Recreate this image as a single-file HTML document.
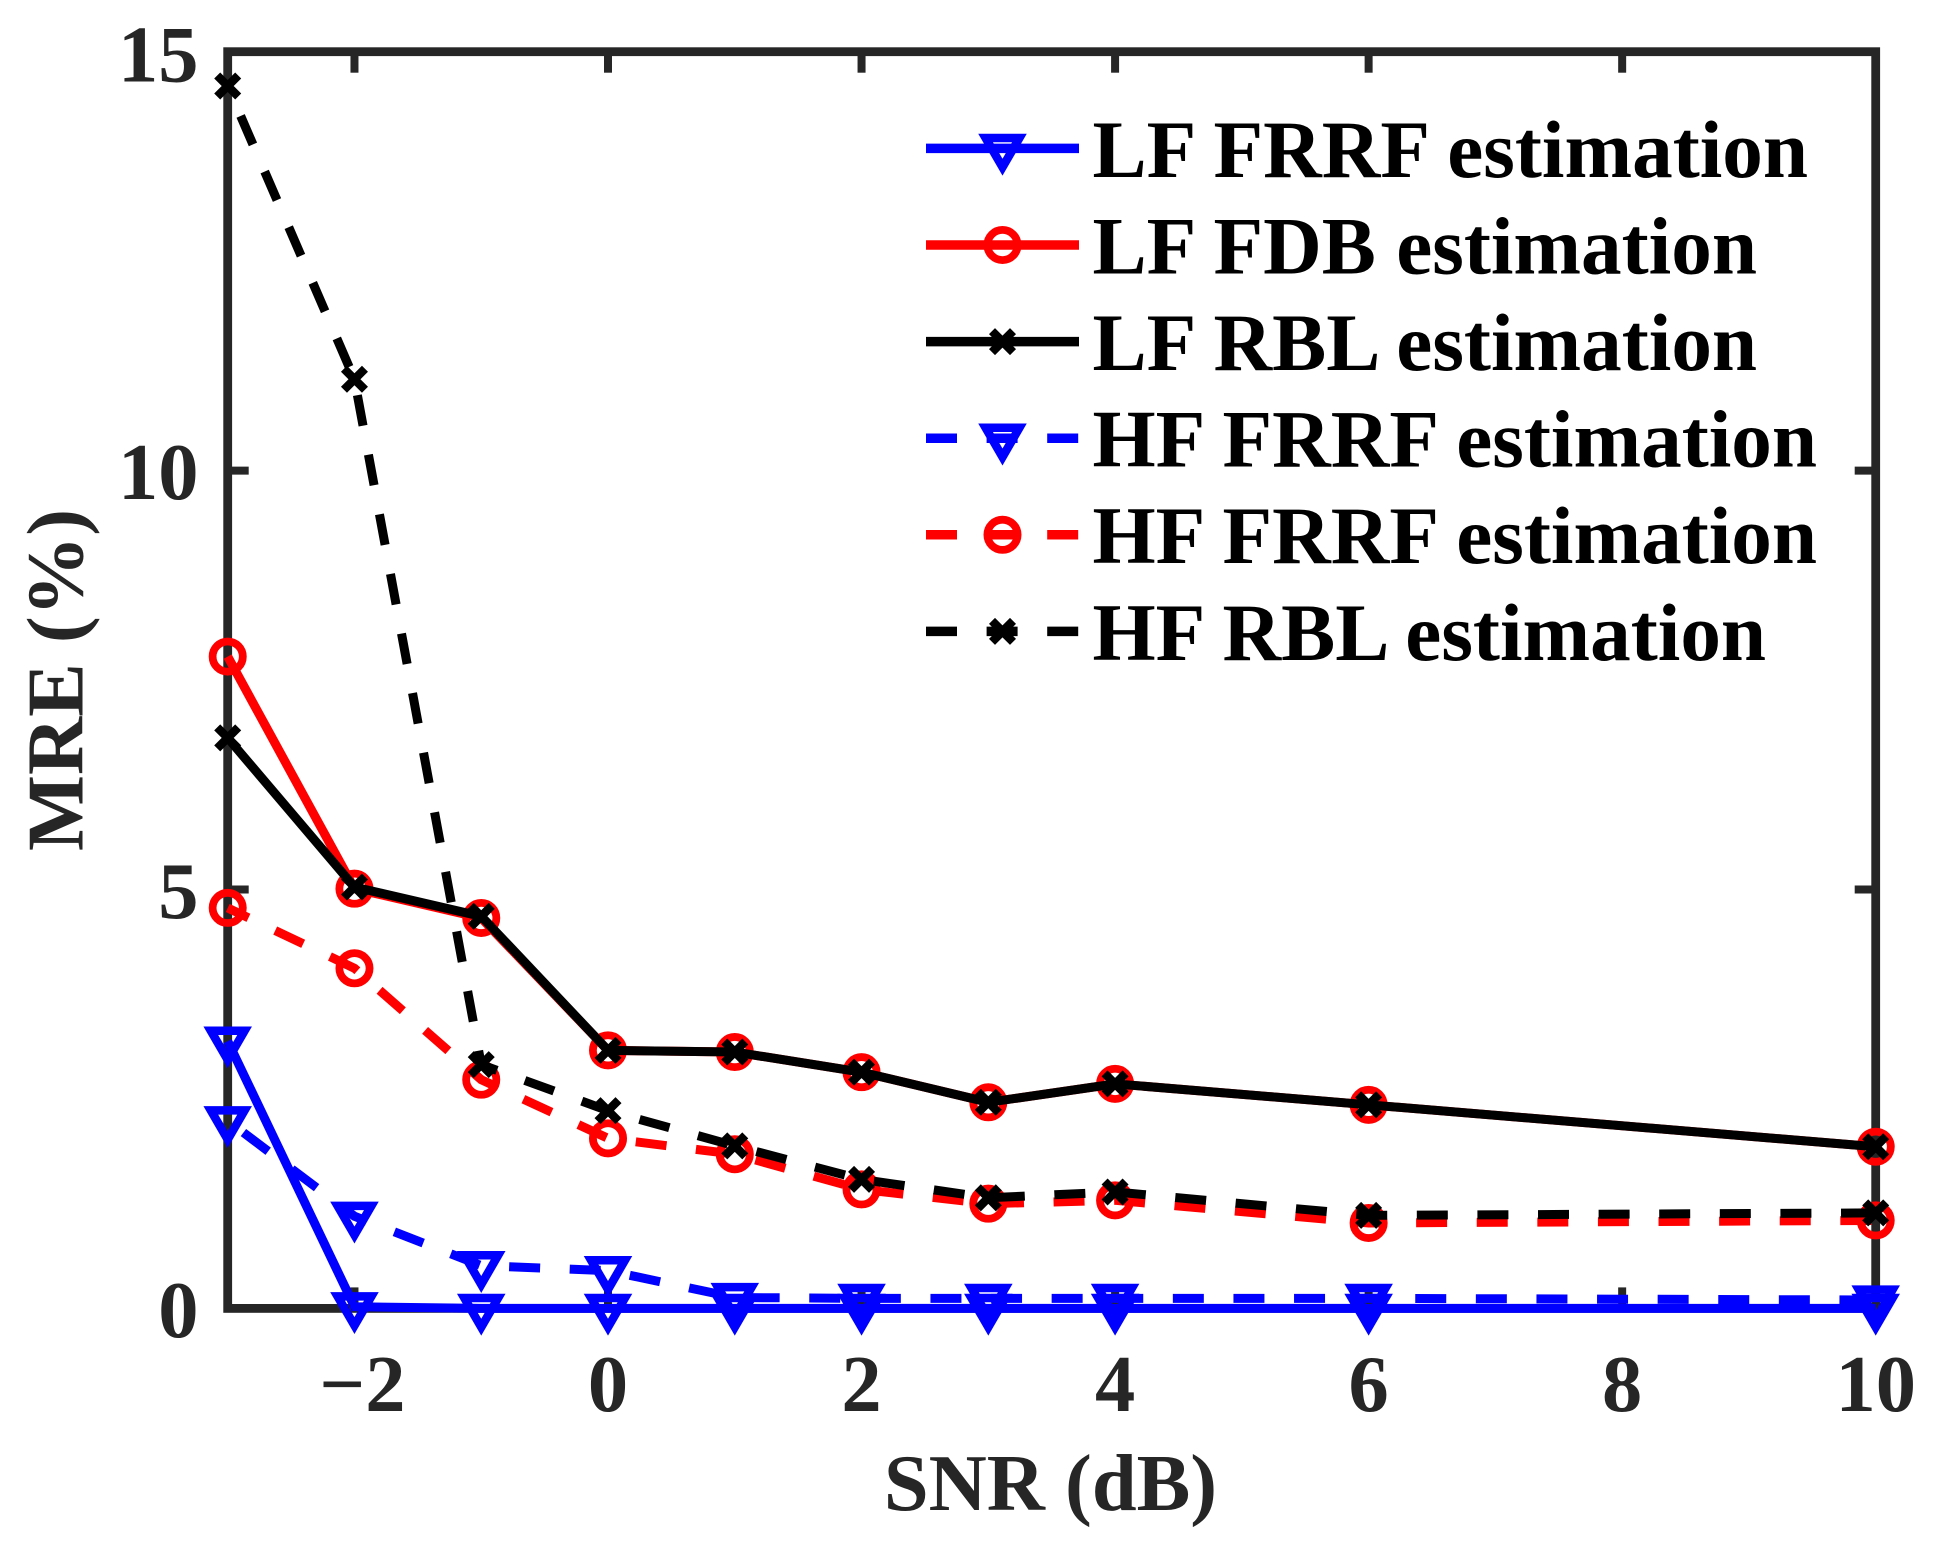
<!DOCTYPE html>
<html lang="en">
<head>
<meta charset="utf-8">
<title>MRE vs SNR</title>
<style>
  html, body { margin: 0; padding: 0; background: #fff; }
  svg { display: block; }
  text { font-family: "Liberation Serif", "Times New Roman", serif; font-weight: bold; }
  .tick-label, .axis-title { fill: #262626; font-size: 80.5px; }
  .legend-label { fill: #000; font-size: 81.2px; }
</style>
</head>
<body>
<svg id="chart" xmlns="http://www.w3.org/2000/svg" width="1941" height="1546" viewBox="0 0 1941 1546">
  <rect x="0" y="0" width="1941" height="1546" fill="#ffffff"/>
  <rect x="227.7" y="51.7" width="1648" height="1256.7" fill="none" stroke="#262626" stroke-width="8.8"/>
  <g id="ticks"></g>
  <g id="tick-labels"></g>
  <g id="series"></g>
  <text class="axis-title" x="1050.5" y="1510" text-anchor="middle">SNR (dB)</text>
  <text class="axis-title" transform="translate(82.7 680) rotate(-90)" text-anchor="middle">MRE (%)</text>
  <g id="legend"></g>
</svg>
<script>
// ---- data ----
const snrValues = [-3, -2, -1, 0, 1, 2, 3, 4, 6, 10];
const lfFrrf = [3.19, 0.02, 0, 0, 0, 0, 0, 0, 0, 0];
const lfFdb = [7.78, 5.01, 4.66, 3.08, 3.06, 2.82, 2.46, 2.68, 2.43, 1.93];
const lfRbl = [6.81, 5.03, 4.68, 3.08, 3.06, 2.82, 2.46, 2.68, 2.43, 1.93];
const hfFrrf = [2.24, 1.1, 0.51, 0.45, 0.13, 0.12, 0.12, 0.12, 0.12, 0.1];
const hfFdb = [4.78, 4.06, 2.73, 2.03, 1.84, 1.42, 1.25, 1.29, 1.02, 1.05];
const hfRbl = [14.59, 11.09, 2.91, 2.36, 1.94, 1.54, 1.32, 1.39, 1.11, 1.14];
const xTickValues = [-2, 0, 2, 4, 6, 8, 10];
const xTickLabels = ['\u22122', '0', '2', '4', '6', '8', '10'];
const yTickValues = [0, 5, 10, 15];
const yTickLabels = ['0', '5', '10', '15'];
const legendLabels = ['LF FRRF estimation', 'LF FDB estimation', 'LF RBL estimation', 'HF FRRF estimation', 'HF FRRF estimation', 'HF RBL estimation'];

// ---- axis functions ----
const X_MIN = -3, X_MAX = 10, Y_MIN = 0, Y_MAX = 15;
const PLOT_L = 227.7, PLOT_R = 1875.7, PLOT_T = 51.7, PLOT_B = 1308.4;
function xScale(v) { return PLOT_L + (v - X_MIN) / (X_MAX - X_MIN) * (PLOT_R - PLOT_L); }
function yScale(v) { return PLOT_B - (v - Y_MIN) / (Y_MAX - Y_MIN) * (PLOT_B - PLOT_T); }

const NS = 'http://www.w3.org/2000/svg';
function make(tag, parent) {
  const el = document.createElementNS(NS, tag);
  parent.appendChild(el);
  return el;
}
const AXIS_COLOR = '#262626';
const DASH = '31 29.6';

// ---- ticks ----
const tickGroup = document.getElementById('ticks');
const labelGroup = document.getElementById('tick-labels');
function tickLine(x1, y1, x2, y2, name) {
  const t = make('line', tickGroup);
  
  
  t.setAttribute('x1', x1);
  t.setAttribute('y1', y1);
  t.setAttribute('x2', x2);
  t.setAttribute('y2', y2);
  t.setAttribute('stroke', AXIS_COLOR);
  t.setAttribute('stroke-width', 8);
}
xTickValues.forEach(function (v, i) {
  const x = xScale(v);
  tickLine(x, PLOT_B, x, PLOT_B - 21, 'x-tick-bottom');
  tickLine(x, PLOT_T, x, PLOT_T + 21, 'x-tick-top');
  const lab = make('text', labelGroup);
  
  
  lab.setAttribute('class', 'tick-label');
  lab.setAttribute('x', v < 0 ? x + 8 : x);
  lab.setAttribute('y', 1411);
  lab.setAttribute('text-anchor', 'middle');
  lab.textContent = xTickLabels[i];
});
yTickValues.forEach(function (v, i) {
  const y = yScale(v);
  tickLine(PLOT_L, y, PLOT_L + 21, y, 'y-tick-left');
  tickLine(PLOT_R, y, PLOT_R - 21, y, 'y-tick-right');
  const lab = make('text', labelGroup);
  
  
  lab.setAttribute('class', 'tick-label');
  lab.setAttribute('x', 198.5);
  lab.setAttribute('y', y + (i === yTickValues.length - 1 ? 30 : 28.5));
  lab.setAttribute('text-anchor', 'end');
  lab.textContent = yTickLabels[i];
});

// ---- markers ----
function drawMarker(parent, kind, cx, cy, color, name) {
  let m;
  if (kind === 'triangle') {
    m = make('path', parent);
    m.setAttribute('d', 'M' + (cx - 16.9) + ' ' + (cy - 10.4) + 'L' + (cx + 16.9) + ' ' + (cy - 10.4) + 'L' + cx + ' ' + (cy + 18.8) + 'Z');
    m.setAttribute('stroke-width', 8.5);
    m.setAttribute('stroke-miterlimit', 10);
  } else if (kind === 'circle') {
    m = make('circle', parent);
    m.setAttribute('cx', cx);
    m.setAttribute('cy', cy);
    m.setAttribute('r', 15.1);
    m.setAttribute('stroke-width', 7.8);
  } else {
    m = make('path', parent);
    const a = 10.5;
    m.setAttribute('d', 'M' + (cx - a) + ' ' + (cy - a) + 'L' + (cx + a) + ' ' + (cy + a) + 'M' + (cx - a) + ' ' + (cy + a) + 'L' + (cx + a) + ' ' + (cy - a));
    m.setAttribute('stroke-width', 8.5);
  }
  
  
  m.setAttribute('fill', 'none');
  m.setAttribute('stroke', color);
}

// ---- series ----
const seriesGroup = document.getElementById('series');
function drawSeries(values, color, kind, dashed, dashOffset, name) {
  const g = make('g', seriesGroup);
  
  
  const line = make('polyline', g);
  
  
  line.setAttribute('points', values.map(function (v, i) { return xScale(snrValues[i]) + ',' + yScale(v); }).join(' '));
  line.setAttribute('fill', 'none');
  line.setAttribute('stroke', color);
  line.setAttribute('stroke-width', 9);
  line.setAttribute('stroke-linejoin', 'miter');
  if (dashed) {
    line.setAttribute('stroke-dasharray', DASH);
    line.setAttribute('stroke-dashoffset', dashOffset);
  }
  values.forEach(function (v, i) {
    drawMarker(g, kind, xScale(snrValues[i]), yScale(v), color, name + '-marker');
  });
}
drawSeries(lfFrrf, '#0000ff', 'triangle', false, 0, 'lf-frrf-series');
drawSeries(lfFdb, '#ff0000', 'circle', false, 0, 'lf-fdb-series');
drawSeries(lfRbl, '#000000', 'cross', false, 0, 'lf-rbl-series');
drawSeries(hfFrrf, '#0000ff', 'triangle', true, 40.9, 'hf-frrf-series');
drawSeries(hfFdb, '#ff0000', 'circle', true, 8, 'hf-fdb-series');
drawSeries(hfRbl, '#000000', 'cross', true, 28, 'hf-rbl-series');

// ---- legend ----
const legendGroup = document.getElementById('legend');
const legendColors = ['#0000ff', '#ff0000', '#000000', '#0000ff', '#ff0000', '#000000'];
const legendKinds = ['triangle', 'circle', 'cross', 'triangle', 'circle', 'cross'];
legendLabels.forEach(function (label, i) {
  const y = 148.4 + i * 96.6;
  const dashed = i >= 3;
  const entry = make('g', legendGroup);
  
  
  const ln = make('line', entry);
  
  
  ln.setAttribute('x1', 926);
  ln.setAttribute('y1', y);
  ln.setAttribute('x2', 1079);
  ln.setAttribute('y2', y);
  ln.setAttribute('stroke', legendColors[i]);
  ln.setAttribute('stroke-width', 9.5);
  if (dashed) {
    ln.setAttribute('stroke-dasharray', DASH);
  }
  drawMarker(entry, legendKinds[i], 1002.5, y, legendColors[i], 'legend-marker');
  const tx = make('text', entry);
  
  
  tx.setAttribute('class', 'legend-label');
  tx.setAttribute('x', 1092.5);
  tx.setAttribute('y', y + 28.4);
  tx.textContent = label;
});
</script>
</body>
</html>
